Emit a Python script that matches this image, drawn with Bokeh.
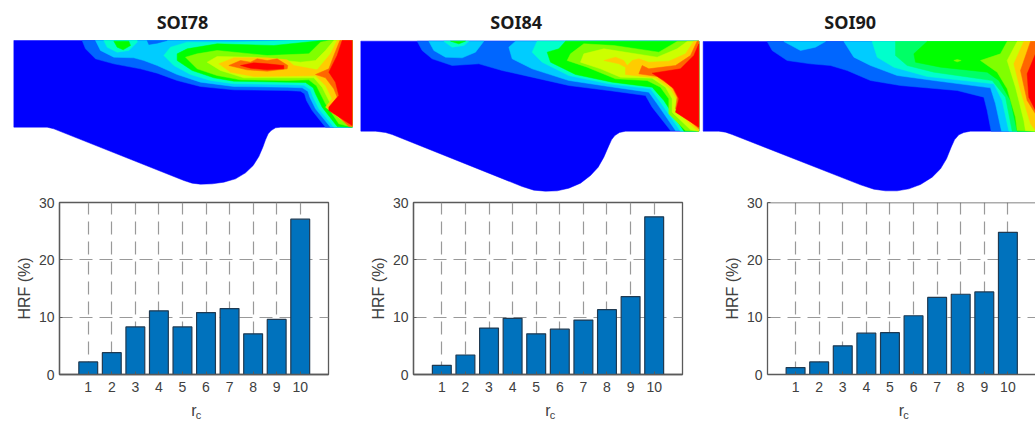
from bokeh.plotting import figure
from bokeh.layouts import column, row
from bokeh.models import Range1d, FixedTicker, LinearAxis, Label, Span, ColumnDataSource
from bokeh.embed import file_html
from bokeh.resources import INLINE

# ---- bar data -------------------------------------------------------------
RC = [1, 2, 3, 4, 5, 6, 7, 8, 9, 10]
HRF_SOI78 = [2.2, 3.8, 8.3, 11.1, 8.3, 10.8, 11.5, 7.1, 9.6, 27.1]
HRF_SOI84 = [1.6, 3.4, 8.1, 9.8, 7.1, 7.9, 9.5, 11.3, 13.6, 27.5]
HRF_SOI90 = [1.2, 2.2, 5.0, 7.2, 7.3, 10.25, 13.45, 14.0, 14.4, 24.8]
TITLES = ["SOI78", "SOI84", "SOI90"]

# ---- contour colours ------------------------------------------------------
C0, C1, C2, C3, C3B = "#0000FF", "#0066FF", "#00CCFF", "#00FFCC", "#00FF66"
C4, C5, C6, C7, C8, C9 = "#00FF00", "#80FF00", "#CCFF00", "#FFCC00", "#FF6600", "#FF0000"

# ---- contour bands (domain units) -----------------------------------------
SOI78_BANDS = [
 (C0, [(40,120),(1055,120),(1055,380),(840,380),(825,382),(812,390),(803,400),(795,418),(787,440),(775,468),(758,495),(735,517),(705,535),(670,545),(635,550),(600,551),(575,548),(550,540),(160,385),(140,380),(40,380)]),
 (C1, [(245,120),(255,145),(285,175),(340,190),(420,205),(470,218),(530,240),(600,258),(700,268),(860,270),(900,272),(912,280),(918,300),(935,330),(975,380),(1055,380),(1055,120)]),
 (C2, [(285,120),(300,150),(340,170),(400,172),(430,180),(470,195),(530,222),(600,245),(700,258),(860,260),(905,262),(922,272),(928,290),(945,325),(990,380),(1055,380),(1055,120)]),
 (C1, [(440,120),(445,132),(470,128),(500,120)]),
 (C3, [(310,120),(320,140),(350,155),(385,150),(410,125),(410,120)]),
 (C4, [(340,122),(350,140),(368,148),(390,135),(385,122)]),
 (C3, [(870,120),(700,125),(560,125),(510,140),(490,165),(520,195),(570,222),(630,240),(700,250),(860,252),(910,254),(930,268),(938,290),(955,325),(1000,380),(1055,380),(1055,120)]),
 (C4, [(965,120),(820,135),(650,130),(560,145),(530,160),(530,180),(575,210),(640,232),(700,242),(860,245),(915,246),(938,262),(945,280),(965,320),(1010,378),(1055,380),(1055,120)]),
 (C5, [(985,120),(960,125),(925,160),(800,165),(650,150),(590,160),(555,170),(590,205),(650,225),(720,238),(860,240),(925,238),(948,256),(955,270),(975,310),(1015,370),(1055,380),(1055,120)]),
 (C6, [(1000,120),(975,150),(945,180),(900,185),(760,170),(650,168),(620,185),(660,210),(730,232),(860,232),(940,232),(965,260),(985,300),(1030,360),(1055,378),(1055,120)]),
 (C7, [(1010,120),(990,160),(950,208),(880,195),(860,178),(800,172),(700,172),(655,190),(690,215),(760,228),(945,226),(975,255),(995,295),(975,320),(1040,372),(1055,378),(1055,120)]),
 (C8, [(1018,120),(1000,165),(985,205),(945,222),(975,232),(1000,265),(1010,290),(985,320),(1045,378),(1055,378),(1055,120)]),
 (C8, [(685,195),(720,180),(750,185),(770,175),(800,180),(830,175),(862,195),(860,205),(800,212),(740,208)]),
 (C9, [(1025,120),(1010,165),(985,215),(1005,245),(1015,285),(985,320),(985,330),(1055,375),(1055,120)]),
 (C9, [(720,195),(760,187),(800,190),(850,195),(850,205),(800,208),(750,203)]),
]
SOI84_BANDS = [
 (C0, [(16,122),(1030,122),(1030,392),(810,392),(792,396),(778,405),(768,418),(758,440),(745,470),(728,500),(705,525),(675,548),(640,563),(605,571),(570,572),(535,569),(500,558),(110,402),(90,396),(60,392),(16,392)]),
 (C1, [(185,122),(200,150),(230,175),(290,195),(370,190),(440,210),(530,230),(640,255),(760,270),(870,285),(890,320),(945,390),(1030,392),(1030,122)]),
 (C2, [(220,122),(235,150),(270,170),(320,172),(360,155),(385,122)]),
 (C3, [(265,122),(290,140),(325,135),(340,122)]),
 (C4, [(285,122),(310,130),(330,122)]),
 (C2, [(480,122),(460,140),(470,175),(530,205),(640,240),(760,258),(880,275),(905,310),(960,390),(1030,392),(1030,122)]),
 (C3, [(545,122),(530,155),(560,185),(640,225),(760,250),(885,265),(915,305),(975,392),(1030,392),(1030,122)]),
 (C4, [(630,122),(610,145),(575,155),(585,185),(660,222),(770,245),(890,260),(925,300),(985,392),(1030,392),(1030,122)]),
 (C5, [(965,123),(910,155),(775,135),(685,130),(645,160),(635,180),(695,200),(780,235),(875,240),(915,260),(940,295),(940,340),(990,390),(1030,392),(1030,122)]),
 (C6, [(995,123),(965,145),(905,170),(745,145),(685,160),(675,185),(735,205),(795,230),(890,233),(930,260),(950,295),(950,335),(1005,388),(1030,392),(1030,122)]),
 (C7, [(1015,122),(990,160),(940,182),(880,185),(850,175),(830,180),(815,195),(805,180),(780,170),(745,180),(790,190),(810,200),(810,222),(860,228),(900,232),(945,265),(965,300),(965,335),(1020,385),(1030,392),(1030,122)]),
 (C8, [(1025,122),(1005,165),(960,195),(880,205),(860,195),(850,220),(905,228),(950,260),(965,290),(960,325),(1030,385),(1030,122)]),
 (C9, [(1030,130),(1015,165),(975,205),(890,218),(925,240),(955,265),(970,295),(960,335),(1030,380)]),
]
SOI90_BANDS = [
 (C0, [(8,123),(1005,123),(1005,392),(810,392),(790,396),(775,403),(762,418),(752,440),(738,475),(720,505),(695,530),(660,552),(625,565),(590,571),(555,571),(520,566),(480,553),(95,402),(75,395),(55,392),(8,392)]),
 (C1, [(200,123),(215,150),(260,180),(330,190),(390,195),(440,210),(510,240),(600,255),(770,270),(850,290),(860,330),(872,392),(1005,392),(1005,123)]),
 (C2, [(250,123),(300,150),(345,140),(375,123)]),
 (C2, [(430,123),(460,170),(510,195),(590,225),(700,240),(870,262),(885,310),(903,392),(1005,392),(1005,123)]),
 (C3, [(515,123),(530,170),(580,200),(680,228),(880,250),(905,300),(925,392),(1005,392),(1005,123)]),
 (C3B, [(585,123),(585,165),(620,195),(700,215),(875,240),(915,290),(935,392),(1005,392),(1005,123)]),
 (C4, [(680,123),(640,160),(645,185),(720,200),(860,215),(895,240),(930,300),(950,392),(1005,392),(1005,123)]),
 (C5, [(760,180),(770,177),(782,180),(770,184)]),
 (C5, [(920,123),(900,160),(840,180),(890,215),(920,265),(945,350),(950,390),(1005,392),(1005,123)]),
 (C6, [(950,123),(920,180),(945,260),(970,360),(975,390),(1005,392),(1005,123)]),
 (C7, [(970,123),(940,190),(960,270),(990,370),(1005,390),(1005,123)]),
 (C8, [(990,123),(960,210),(980,300),(1005,340),(1005,123)]),
 (C9, [(1005,160),(980,220),(985,290),(1005,330)]),
]

# ---- style ----------------------------------------------------------------
FONT = "Liberation Sans"
TXT = "#404040"
SPINE = "#5a5a5a"
BAR = "#0072BD"


def contour_panel(bands, title, width, xr, title_x):
    p = figure(width=width, height=193, x_range=Range1d(*xr), y_range=Range1d(579, 0),
               output_backend="svg", toolbar_location=None,
               min_border=0, min_border_left=0, min_border_right=0,
               min_border_top=0, min_border_bottom=0)
    p.axis.visible = False
    p.grid.visible = False
    p.outline_line_color = None
    for color, pts in bands:
        p.patch([q[0] for q in pts], [q[1] for q in pts], fill_color=color,
                line_color=color, line_width=0.5)
    p.add_layout(Label(x=title_x, y=64, text=title, text_align="center", text_baseline="middle",
                       text_font="Noto Sans", text_font_style="bold", text_font_size="18px",
                       text_color="#1a1a1a"))
    return p


def bar_panel(vals, width, left, right, xr, box=True):
    p = figure(width=width, height=230, x_range=Range1d(*xr), y_range=Range1d(0, 30),
               output_backend="svg", toolbar_location=None,
               min_border_left=left, min_border_right=right, min_border_top=9, min_border_bottom=49)
    src = ColumnDataSource(dict(x=RC, top=vals))
    p.vbar(x="x", top="top", width=0.8, bottom=0, source=src, fill_color=BAR,
           line_color="#1f3a52", line_width=1.2)
    p.xaxis.ticker = FixedTicker(ticks=RC)
    p.yaxis.ticker = FixedTicker(ticks=[0, 10, 20, 30])
    p.xaxis.axis_label = "r"
    p.yaxis.axis_label = "HRF (%)"
    for ax in (p.xaxis[0], p.yaxis[0]):
        ax.major_tick_in = 3
        ax.major_tick_out = 0
        ax.minor_tick_line_color = None
        ax.axis_line_color = SPINE
        ax.axis_line_width = 1.3
        ax.major_tick_line_color = SPINE
        ax.major_label_text_font = FONT
        ax.major_label_text_font_size = "14px"
        ax.major_label_text_color = TXT
        ax.axis_label_text_font = FONT
        ax.axis_label_text_font_size = "16px"
        ax.axis_label_text_font_style = "normal"
        ax.axis_label_text_color = TXT
    p.xaxis.major_label_standoff = 7
    p.xaxis.axis_label_standoff = 7
    p.yaxis.major_label_standoff = 5
    p.yaxis.axis_label_standoff = 3
    # the subscript of r_c, carried by a label-only axis stacked under the main one
    sub = LinearAxis(ticker=FixedTicker(ticks=[]), axis_line_color=None,
                     major_tick_line_color=None, minor_tick_line_color=None,
                     axis_label="\u00a0\u00a0\u00a0c", axis_label_standoff=-13,
                     axis_label_text_font=FONT, axis_label_text_font_size="11px",
                     axis_label_text_font_style="normal", axis_label_text_color=TXT)
    p.add_layout(sub, "below")
    p.xgrid.ticker = FixedTicker(ticks=RC)
    p.ygrid.ticker = FixedTicker(ticks=[10, 20])
    for g in (p.xgrid[0], p.ygrid[0]):
        g.grid_line_color = "#999999"
        g.grid_line_dash = "13 7"
        g.grid_line_width = 1.2
    if box:
        p.outline_line_color = SPINE
        p.outline_line_width = 1.3
    else:
        p.outline_line_color = None
        p.add_layout(Span(location=30, dimension="width", line_color=SPINE, line_width=1.3))
    return p


top_row = row(
    contour_panel(SOI78_BANDS, TITLES[0], 355, (0, 1065), 546),
    contour_panel(SOI84_BANDS, TITLES[1], 345, (0, 1035), 482),
    contour_panel(SOI90_BANDS, TITLES[2], 335, (0, 1005), 449),
)
bottom_row = row(
    bar_panel(HRF_SOI78, 361, 59, 33, (-0.22, 11.2)),
    bar_panel(HRF_SOI84, 343, 52, 22, (-0.2, 11.2)),
    bar_panel(HRF_SOI90, 331, 63, 0, (-0.19, 11.17), box=False),
)
page = column(top_row, bottom_row)
open("out.html", "w").write(file_html(page, INLINE))
